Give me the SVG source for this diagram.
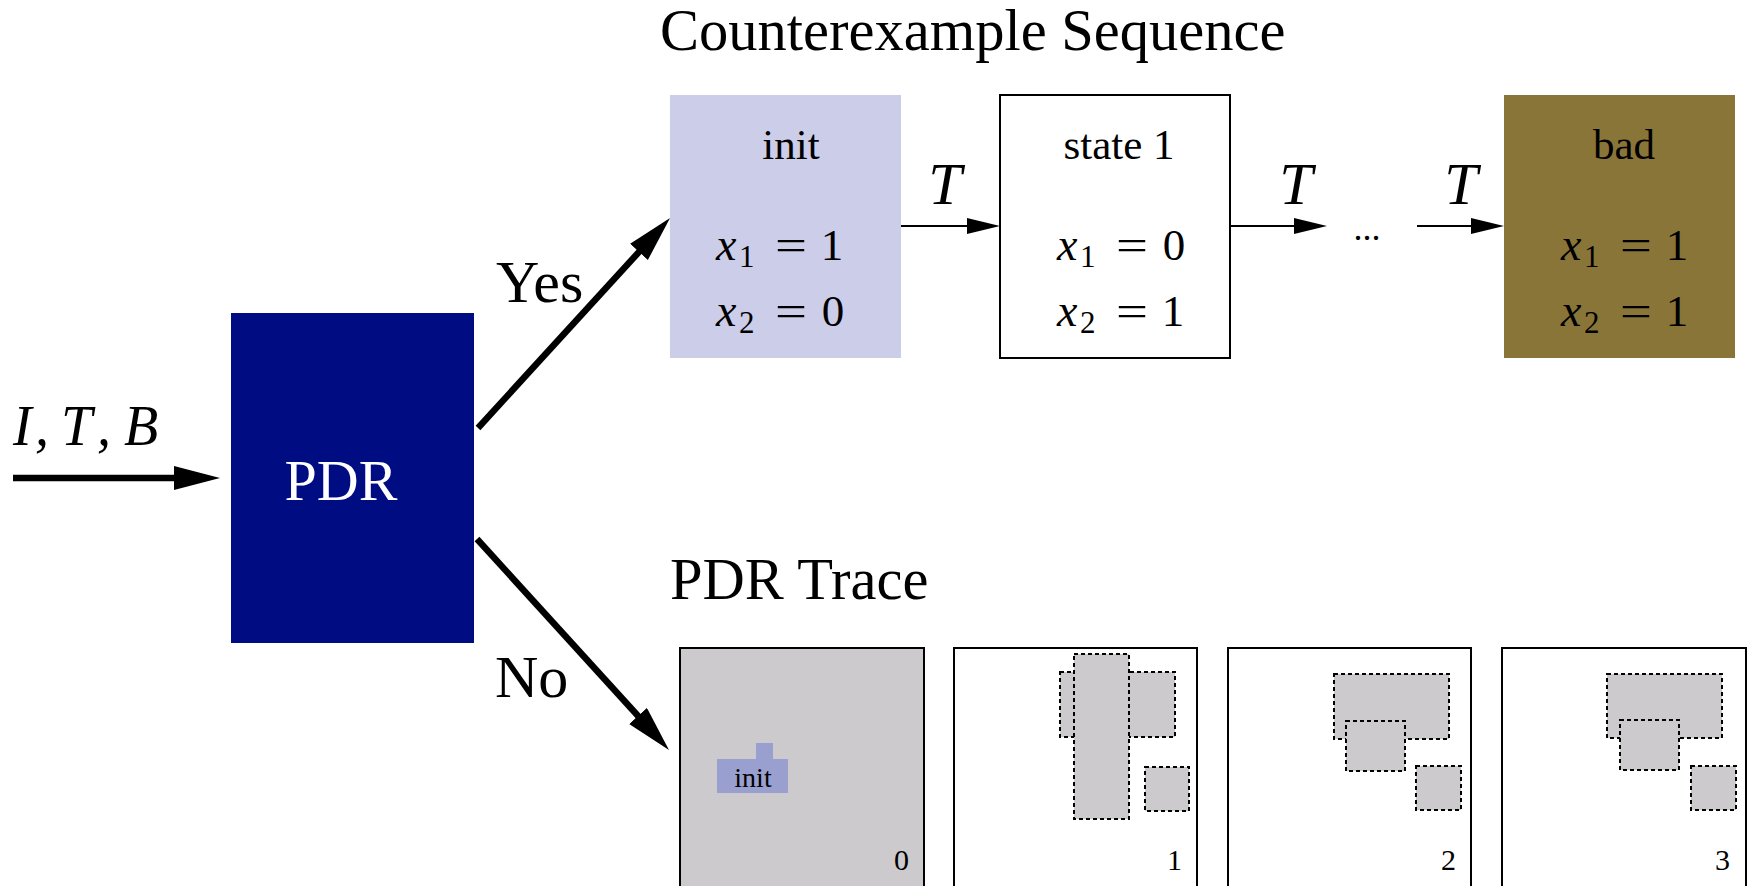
<svg xmlns="http://www.w3.org/2000/svg" width="1748" height="886" viewBox="0 0 1748 886">
  <style>
    .serif { font-family: "Liberation Serif", "Times New Roman", serif; fill: #000; }
    .math { font-family: "Liberation Serif", "Times New Roman", serif; font-style: italic; fill: #000; }
    .title { font-size: 58.5px; }
    .label { font-size: 43px; text-anchor: middle; }
    .var { font-size: 46px; }
    .sub { font-size: 31px; }
    .rel { font-size: 44px; }
    .digit { font-size: 45px; text-anchor: middle; }
    .tee { font-size: 60px; text-anchor: middle; }
    .frame { fill: #fff; stroke: #000; stroke-width: 2; }
    .blob { fill: #cccacd; stroke: #000; stroke-width: 2; stroke-dasharray: 4 3; }
    .num { font-size: 30px; text-anchor: end; }
    .thin { stroke: #000; stroke-width: 2; fill: none; }
    .thick { stroke: #000; stroke-width: 6.5; fill: none; }
  </style>
  <defs>
    <marker id="headThin" markerUnits="userSpaceOnUse" markerWidth="34" markerHeight="18" refX="23" refY="8" orient="auto">
      <path d="M0,0 L33,8 L0,16 z" fill="#000"/>
    </marker>
    <marker id="headThick" markerUnits="userSpaceOnUse" markerWidth="48" markerHeight="26" refX="16" refY="12" orient="auto">
      <path d="M0,0 L46,12 L0,24 z" fill="#000"/>
    </marker>
  </defs>

  <rect width="1748" height="886" fill="#fff"/>

  <!-- section headings -->
  <text class="serif title" x="660" y="50">Counterexample Sequence</text>
  <text class="serif title" x="670" y="599">PDR Trace</text>

  <!-- input label -->
  <text class="math" font-size="56" x="13 35 61 97 124" y="445">I,T,B</text>

  <!-- PDR engine -->
  <g id="pdr">
    <rect x="231" y="313" width="243" height="330" fill="#000c82"/>
    <text class="serif" font-size="58" x="341" y="500" text-anchor="middle" style="fill:#fff">PDR</text>
  </g>

  <!-- counterexample states: x_i = v written as variable, subscript, relation, value -->
  <g id="state-init">
    <rect x="670" y="95" width="231" height="263" fill="#cccde8"/>
    <text class="serif label" x="791" y="159">init</text>
    <text class="math var" x="716" y="260">x</text>
    <text class="serif sub" x="739" y="267">1</text>
    <text class="serif rel" x="775" y="260" textLength="32" lengthAdjust="spacingAndGlyphs">=</text>
    <text class="serif digit" x="832" y="260">1</text>
    <text class="math var" x="716" y="326">x</text>
    <text class="serif sub" x="739" y="333">2</text>
    <text class="serif rel" x="775" y="326" textLength="32" lengthAdjust="spacingAndGlyphs">=</text>
    <text class="serif digit" x="833" y="326">0</text>
  </g>

  <g id="state-1">
    <rect class="frame" x="1000" y="95" width="230" height="263"/>
    <text class="serif label" x="1119" y="159">state 1</text>
    <text class="math var" x="1057" y="260">x</text>
    <text class="serif sub" x="1080" y="267">1</text>
    <text class="serif rel" x="1116" y="260" textLength="32" lengthAdjust="spacingAndGlyphs">=</text>
    <text class="serif digit" x="1174" y="260">0</text>
    <text class="math var" x="1057" y="326">x</text>
    <text class="serif sub" x="1080" y="333">2</text>
    <text class="serif rel" x="1116" y="326" textLength="32" lengthAdjust="spacingAndGlyphs">=</text>
    <text class="serif digit" x="1173" y="326">1</text>
  </g>

  <g id="state-bad">
    <rect x="1504" y="95" width="231" height="263" fill="#8a7539"/>
    <text class="serif label" x="1624" y="159">bad</text>
    <text class="math var" x="1561" y="260">x</text>
    <text class="serif sub" x="1584" y="267">1</text>
    <text class="serif rel" x="1620" y="260" textLength="32" lengthAdjust="spacingAndGlyphs">=</text>
    <text class="serif digit" x="1677" y="260">1</text>
    <text class="math var" x="1561" y="326">x</text>
    <text class="serif sub" x="1584" y="333">2</text>
    <text class="serif rel" x="1620" y="326" textLength="32" lengthAdjust="spacingAndGlyphs">=</text>
    <text class="serif digit" x="1677" y="326">1</text>
  </g>

  <text class="serif" font-size="36" x="1367" y="240" text-anchor="middle">...</text>

  <!-- PDR trace frames -->
  <g id="frame-0">
    <rect x="680" y="648" width="244" height="260" fill="#cccacd" stroke="#000" stroke-width="2"/>
    <rect x="756" y="743" width="17" height="17" fill="#99a0d0"/>
    <rect x="717" y="759" width="71" height="34" fill="#99a0d0"/>
    <text class="serif" font-size="28" x="753" y="787" text-anchor="middle">init</text>
    <text class="serif num" x="909" y="870">0</text>
  </g>

  <g id="frame-1">
    <rect class="frame" x="954" y="648" width="243" height="260"/>
    <rect class="blob" x="1060" y="672" width="115" height="65"/>
    <rect class="blob" x="1074" y="654" width="55" height="165"/>
    <rect class="blob" x="1145" y="767" width="44" height="44"/>
    <text class="serif num" x="1182" y="870">1</text>
  </g>

  <g id="frame-2">
    <rect class="frame" x="1228" y="648" width="243" height="260"/>
    <rect class="blob" x="1334" y="674" width="115" height="65"/>
    <rect class="blob" x="1346" y="721" width="59" height="50"/>
    <rect class="blob" x="1416" y="766" width="45" height="44"/>
    <text class="serif num" x="1456" y="870">2</text>
  </g>

  <g id="frame-3">
    <rect class="frame" x="1502" y="648" width="244" height="260"/>
    <rect class="blob" x="1607" y="674" width="115" height="64"/>
    <rect class="blob" x="1620" y="720" width="59" height="50"/>
    <rect class="blob" x="1691" y="766" width="45" height="44"/>
    <text class="serif num" x="1730" y="870">3</text>
  </g>

  <!-- connectors -->
  <g id="connectors">
    <line class="thick" x1="13" y1="478" x2="190" y2="478" marker-end="url(#headThick)"/>
    <line class="thick" x1="478" y1="428" x2="649.8" y2="240.1" marker-end="url(#headThick)"/>
    <line class="thick" x1="477" y1="539" x2="648.8" y2="727.8" marker-end="url(#headThick)"/>
    <line class="thin" x1="901" y1="226" x2="990" y2="226" marker-end="url(#headThin)"/>
    <line class="thin" x1="1230" y1="226" x2="1317" y2="226" marker-end="url(#headThin)"/>
    <line class="thin" x1="1417" y1="226" x2="1494" y2="226" marker-end="url(#headThin)"/>
  </g>

  <!-- edge labels -->
  <text class="math tee" x="945" y="204">T</text>
  <text class="math tee" x="1296" y="204">T</text>
  <text class="math tee" x="1461" y="204">T</text>
  <text class="serif" font-size="60" x="496" y="302">Yes</text>
  <text class="serif" font-size="60" x="495" y="697">No</text>
</svg>
